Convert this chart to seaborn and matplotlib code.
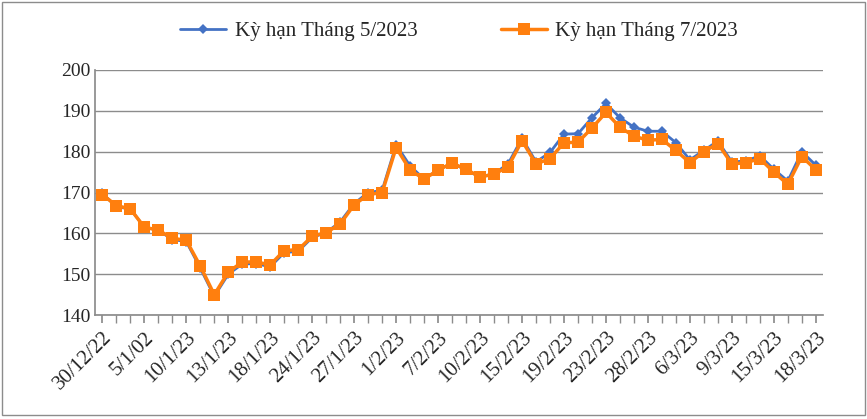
import numpy as np
import pandas as pd
import seaborn as sns
import matplotlib.pyplot as plt

labels = ["30/12/22", "5/1/02", "10/1/23", "13/1/23", "18/1/23", "24/1/23",
          "27/1/23", "1/2/23", "7/2/23", "10/2/23", "15/2/23", "19/2/23",
          "23/2/23", "28/2/23", "6/3/23", "9/3/23", "15/3/23", "18/3/23"]

may_2023 = [169.8, 166.5, 166, 161.5, 160.8, 158.5, 158, 151.5, 144.6, 150,
            152.5, 152.6, 151.8, 155.3, 155.6, 159, 160.2, 162.8, 167.3, 170,
            170.5, 181.7, 176.5, 173.3, 175.5, 177.2, 175.5, 173.8, 174.6, 177,
            183.3, 177.5, 179.8, 184.3, 184.4, 188.3, 191.8, 188.3, 186, 185,
            185, 182.2, 178, 180.3, 182.6, 177.5, 177.7, 179, 175.7, 172.8,
            180, 176.7]
jul_2023 = [169.5, 166.8, 166, 161.5, 160.8, 158.8, 158.3, 152, 145, 150.5,
            153, 153, 152.3, 155.8, 156, 159.3, 160.2, 162.3, 167, 169.5,
            170, 181, 175.5, 173.3, 175.5, 177.2, 175.7, 173.8, 174.5, 176.3,
            182.7, 177, 178.3, 182.2, 182.3, 185.8, 189.6, 186, 183.8, 182.8,
            183, 180.3, 177.3, 180, 182, 177, 177.3, 178.3, 175, 172,
            178.8, 175.6]

sns.set_theme(style="white")
plt.rcParams["font.family"] = ["Liberation Serif", "DejaVu Serif"]

x = np.arange(len(may_2023))
df = pd.DataFrame({"x": x, "may": may_2023, "jul": jul_2023})

fig = plt.figure(figsize=(8.67, 4.19), dpi=100)
ax = fig.add_axes([0.11, 0.248, 0.839, 0.585])

sns.lineplot(data=df, x="x", y="may", ax=ax, color="#4472C4", marker="D",
             markersize=5, linewidth=2, markeredgewidth=0,
             label="Kỳ hạn Tháng 5/2023")
sns.lineplot(data=df, x="x", y="jul", ax=ax, color="#FF7F0E", marker="s",
             markersize=9, linewidth=2.5, markeredgewidth=0,
             label="Kỳ hạn Tháng 7/2023")

ax.set_xlim(-0.5, len(x) - 0.5)
ax.set_ylim(140, 200)
ax.set_yticks(range(140, 201, 10))
ax.yaxis.grid(True, color="#8c8c8c", linewidth=1)
ax.set_xticks(x, minor=True)
ax.set_xticks(x[::3])
ax.set_xticklabels(labels, rotation=45, ha="right", rotation_mode="anchor",
                   fontsize=15)
ax.tick_params(axis="y", labelsize=14, length=0)
ax.tick_params(axis="x", which="both", length=6, color="#8c8c8c",
               direction="out", bottom=True)
ax.set_xlabel("")
ax.set_ylabel("")
for s in ["top", "right"]:
    ax.spines[s].set_visible(False)
ax.spines["left"].set_color("#8c8c8c")
ax.spines["bottom"].set_color("#8c8c8c")

ax.legend(loc="lower center", bbox_to_anchor=(0.5, 1.04), ncol=2,
          frameon=False, fontsize=15, handlelength=2.2, handletextpad=0.4,
          columnspacing=4)

fig.patches.append(plt.Rectangle((0.002, 0.01), 0.996, 0.985, transform=fig.transFigure,
                                 fill=False, edgecolor="#8c8c8c", linewidth=1))

fig.savefig("out.png", dpi=100)
